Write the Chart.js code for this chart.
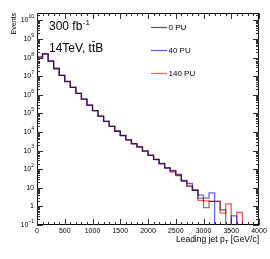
<!DOCTYPE html>
<html><head><meta charset="utf-8">
<script src="https://cdn.jsdelivr.net/npm/chart.js@4/dist/chart.umd.min.js"></script>
<style>html,body{margin:0;padding:0;background:#fff;}#wrap{width:270px;height:259px;}</style>
</head><body><div id="wrap"><canvas id="c" width="270" height="259"></canvas></div>
<script>
// bin lower edges (GeV/c), 100 GeV bins
const binEdges = [0,100,200,300,400,500,600,700,800,900,1000,1100,1200,1300,1400,1500,1600,1700,1800,1900,
  2000,2100,2200,2300,2400,2500,2600,2700,2800,2900,3000,3100,3200,3300,3400,3500,3600,3700,3800,3900,4000];
const pu0 = [1.07e8,1.6e8,6.5e7,2.6e7,1.1e7,5.2e6,2.5e6,1.2e6,5.9e5,2.8e5,1.4e5,7.1e4,3.7e4,2.0e4,1.1e4,6.5e3,3.8e3,2.4e3,1.6e3,950,
  560,340,200,117,85,49,23,12.3,7.4,2.8,0.87,1.86,1.86,0.66,0,0,0,0,0,0];
const pu40 = [9.5e7,1.58e8,6.4e7,2.6e7,1.1e7,5.1e6,2.5e6,1.2e6,5.8e5,2.8e5,1.4e5,7.0e4,3.7e4,2.0e4,1.1e4,6.4e3,3.8e3,2.3e3,1.6e3,940,
  560,330,205,115,82,45,25,17,7.4,4.0,2.8,5.4,0,0,0,0.31,0,0,0,0];
const pu140 = [1.1e8,1.62e8,6.6e7,2.6e7,1.1e7,5.3e6,2.5e6,1.2e6,5.9e5,2.8e5,1.4e5,7.2e4,3.7e4,2.0e4,1.1e4,6.6e3,3.8e3,2.4e3,1.6e3,960,
  570,340,195,118,71,52,23,12.3,7.4,2.1,2.0,1.86,1.86,0.44,1.38,0,0.47,0,0,0];
const seriesLabels = ['0 PU','40 PU','140 PU'];
const seriesColors = ['rgba(0,0,0,0.5)','rgba(0,0,255,0.6)','rgba(255,0,0,0.68)'];
const legendColors = ['#555555','#5a5aff','#ff5a5a'];
const xTicks = [0,500,1000,1500,2000,2500,3000,3500,4000];
const yDecades = [-1,0,1,2,3,4,5,6,7,8,9,10];

const FONT = '"Liberation Sans", Arial, Helvetica, sans-serif';
function histPoints(vals){
  const pts = vals.map((v,i)=>({x:binEdges[i], y: v>0 ? v : 1e-4}));
  const last = vals[vals.length-1];
  pts.push({x:binEdges[binEdges.length-1], y: last>0 ? last : 1e-4});
  return pts;
}
const allSeries = [pu0,pu40,pu140];

const axesPlugin = {
  id:'rootAxes',
  afterDraw(chart){
    const ctx = chart.ctx, a = chart.chartArea;
    const xs = chart.scales.x, ys = chart.scales.y;
    ctx.save();
    ctx.strokeStyle = '#000'; ctx.lineWidth = 1;
    ctx.strokeRect(a.left+0.5, a.top+0.5, a.right-a.left-1, a.bottom-a.top-1);
    ctx.strokeStyle = '#333';
    // y ticks
    const ymin = ys.min, ymax = ys.max;
    for (const d of yDecades){
      for (let m=1;m<=9;m++){
        const v = m*Math.pow(10,d);
        if (v<ymin*0.999 || v>ymax) continue;
        const y = Math.round(ys.getPixelForValue(v))+0.5;
        const len = m===1 ? 6 : 3;
        ctx.beginPath();
        ctx.moveTo(a.left, y); ctx.lineTo(a.left+len, y);
        ctx.moveTo(a.right, y); ctx.lineTo(a.right-len, y);
        ctx.stroke();
      }
    }
    // x ticks
    for (let i=0;i<binEdges.length;i++){
      const v = binEdges[i];
      const major = xTicks.includes(v);
      const x = Math.round(xs.getPixelForValue(v))+0.5;
      const len = major ? 6 : 3;
      ctx.beginPath();
      ctx.moveTo(x, a.bottom); ctx.lineTo(x, a.bottom-len);
      ctx.moveTo(x, a.top); ctx.lineTo(x, a.top+len);
      ctx.stroke();
    }
    // y labels
    ctx.fillStyle = '#000';
    ctx.textBaseline = 'middle';
    for (const d of yDecades){
      const y = ys.getPixelForValue(Math.pow(10,d));
      const rx = a.left - 3;
      if (d===0 || d===1){
        ctx.font = '7px '+FONT; ctx.textAlign='right';
        ctx.fillText(d===0?'1':'10', rx, y);
      } else {
        const exp = String(d).replace('-','\u2212');
        ctx.font = '5px '+FONT;
        const ew = ctx.measureText(exp).width;
        ctx.textAlign='left';
        ctx.fillText(exp, rx-ew, y-3.5);
        ctx.font = '7px '+FONT; ctx.textAlign='right';
        ctx.fillText('10', rx-ew, y);
      }
    }
    // x labels
    ctx.font = '7px '+FONT; ctx.textAlign='center'; ctx.textBaseline='top';
    for (const v of xTicks){
      ctx.fillText(String(v), xs.getPixelForValue(v), a.bottom+3);
    }
    // x title (right aligned)
    ctx.textBaseline='alphabetic';
    ctx.font = '8.5px '+FONT;
    const t1 = 'Leading jet p', t3 = ' [GeV/c]';
    const w3 = ctx.measureText(t3).width;
    ctx.font = '6px '+FONT; const w2 = ctx.measureText('T').width;
    ctx.font = '8.5px '+FONT; const w1 = ctx.measureText(t1).width;
    let xr = a.right; const by = 242;
    ctx.textAlign='left';
    ctx.fillText(t1, xr-w3-w2-w1, by);
    ctx.font = '6px '+FONT; ctx.fillText('T', xr-w3-w2, by+2);
    ctx.font = '8.5px '+FONT; ctx.fillText(t3, xr-w3, by);
    // y title
    ctx.save();
    ctx.translate(16, a.top);
    ctx.rotate(-Math.PI/2);
    ctx.font = '7px '+FONT; ctx.textAlign='right';
    ctx.fillText('Events', 0, 0);
    ctx.restore();
    // annotations
    ctx.textAlign='left';
    ctx.font = '12px '+FONT;
    ctx.fillText('300 fb', 49, 30);
    const wfb = ctx.measureText('300 fb').width;
    ctx.font = '8px '+FONT;
    ctx.fillText('-1', 49+wfb+0.5, 25);
    ctx.font = '12px '+FONT;
    ctx.fillText('14TeV, tt\u0304B', 49, 51.5);
    // legend
    const ly = [27.5, 50.5, 73.5];
    for (let i=0;i<3;i++){
      ctx.strokeStyle = legendColors[i]; ctx.lineWidth = 1.2;
      ctx.beginPath(); ctx.moveTo(151, ly[i]); ctx.lineTo(167, ly[i]); ctx.stroke();
      ctx.fillStyle = '#000'; ctx.font = '8px '+FONT; ctx.textBaseline='middle';
      ctx.fillText(seriesLabels[i], 168.5, ly[i]+0.5);
    }
    ctx.restore();
  }
};

new Chart(document.getElementById('c').getContext('2d'), {
  type:'line',
  data:{datasets: allSeries.map((s,i)=>({
    label: seriesLabels[i], data: histPoints(s), stepped:'before',
    borderColor: seriesColors[i], borderWidth:1.3, fill:false, pointRadius:0, tension:0
  }))},
  options:{
    responsive:false, animation:false, devicePixelRatio:1,
    layout:{padding:{left:37,right:11,top:13,bottom:34}},
    plugins:{legend:{display:false}, tooltip:{enabled:false}},
    scales:{
      x:{type:'linear', min:0, max:4000, display:false},
      y:{type:'logarithmic', min:0.1, max:Math.pow(10,10.4), display:false}
    }
  },
  plugins:[axesPlugin]
});
</script></body></html>
